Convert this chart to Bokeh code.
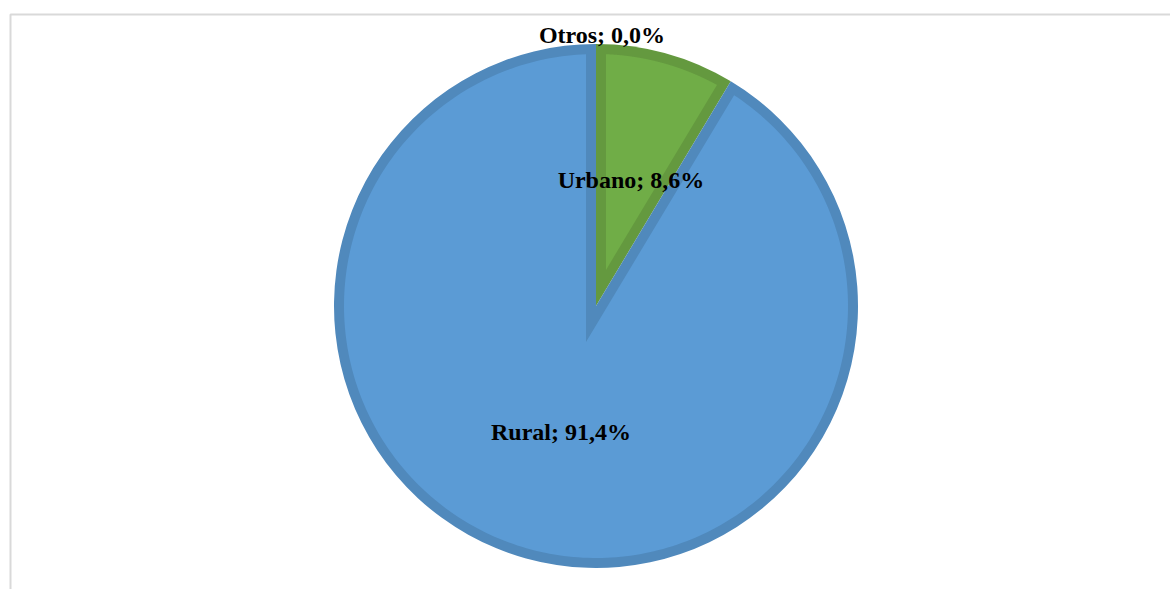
import numpy as np
from bokeh.plotting import figure
from bokeh.models import Range1d, ColumnDataSource
from bokeh.core.properties import value
from bokeh.embed import file_html
from bokeh.resources import INLINE

# ---- data ----
categories = ["Urbano", "Rural", "Otros"]
shares = [8.6, 91.4, 0.0]
fill_colors = ["#70AD47", "#5B9BD5", "#A5A5A5"]
border_colors = ["#64993F", "#5089BC", "#929292"]

# ---- layout constants ----
W, H = 1170, 589
CX, CY = 595.5, 283.5
R = 262.0
INSET = 10.0

vals = np.array(shares, dtype=float)
frac = vals / vals.sum()
spans = frac * 2 * np.pi
ends = np.pi / 2 - np.concatenate([[0.0], np.cumsum(spans)[:-1]])  # clockwise from top
starts = ends - spans
mids = (starts + ends) / 2

labels = [f"{c}; {v:.1f}".replace(".", ",") + "%" for c, v in zip(categories, vals)]

p = figure(width=W, height=H, output_backend="svg", toolbar_location=None,
           x_range=Range1d(0, W), y_range=Range1d(0, H),
           x_axis_type=None, y_axis_type=None, min_border=0,
           outline_line_color=None, background_fill_color="white",
           border_fill_color="white")
p.grid.visible = False

# chart-area frame (light gray, top and left visible)
p.line(x=[10, 10, W + 5], y=[-5, 575, 575], line_color="#D9D9D9", line_width=2)

nz = frac > 0
wsrc = ColumnDataSource(dict(start=starts[nz], end=ends[nz],
                             fill=[fill_colors[i] for i in range(len(vals)) if nz[i]],
                             border=[border_colors[i] for i in range(len(vals)) if nz[i]]))

# full wedges in border color
p.wedge(x=CX, y=CY, radius=R, start_angle="start", end_angle="end",
        fill_color="border", line_color=None, source=wsrc)


def inset_poly(s, e):
    a = e - s
    m = (s + e) / 2
    k = INSET / np.sin(a / 2)
    ax, ay = CX + k * np.cos(m), CY + k * np.sin(m)
    r2 = R - INSET
    t = np.sqrt(r2 ** 2 - INSET ** 2)
    dl = np.arctan2(INSET, t)
    th = np.linspace(s + dl, e - dl, 300)
    xs = np.concatenate([[ax], CX + r2 * np.cos(th)])
    ys = np.concatenate([[ay], CY + r2 * np.sin(th)])
    return list(xs), list(ys)


pxs, pys, pcols = [], [], []
for i in range(len(vals)):
    if not nz[i]:
        continue
    xs, ys = inset_poly(starts[i], ends[i])
    pxs.append(xs)
    pys.append(ys)
    pcols.append(fill_colors[i])

p.patches(xs=pxs, ys=pys, fill_color=pcols, line_color=None)

# labels
lab_r = np.where(nz, 0.5 * R, R + 9.5)
lx = CX + lab_r * np.cos(mids) + np.where(nz, 0.0, 6.0)
ly = CY + lab_r * np.sin(mids)
tsrc = ColumnDataSource(dict(x=lx, y=ly, text=labels))
p.text(x="x", y="y", text="text", source=tsrc,
       text_font=value("Liberation Serif"), text_font_style="bold",
       text_font_size="24px", text_align="center", text_baseline="middle",
       text_color="black")

open("out.html", "w").write(file_html(p, INLINE))
